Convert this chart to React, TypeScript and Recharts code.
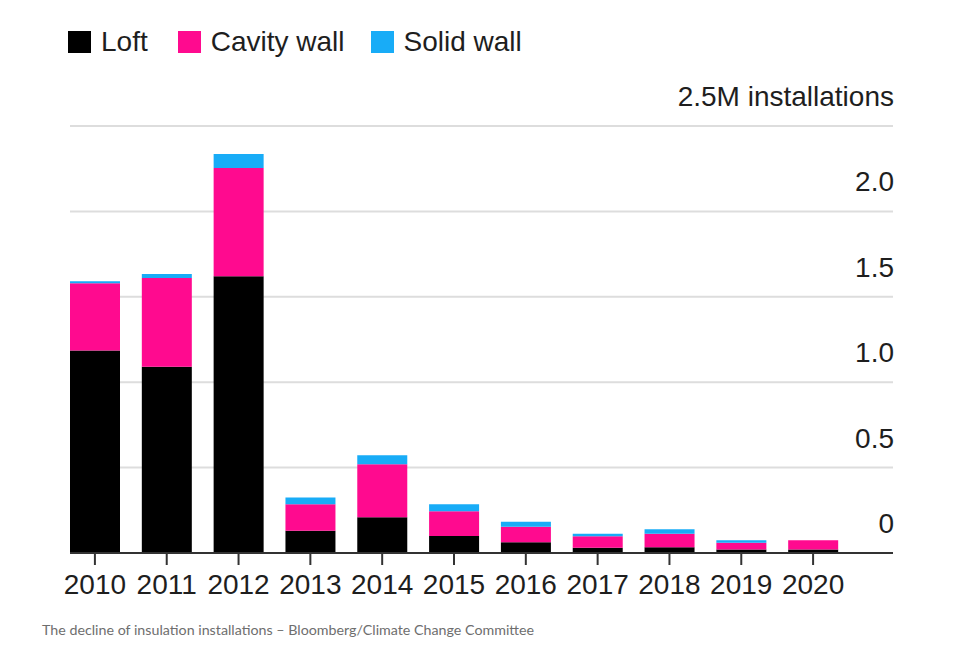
import React from 'react';
import { BarChart, Bar, XAxis, YAxis, CartesianGrid } from 'recharts';

const years = ['2010', '2011', '2012', '2013', '2014', '2015', '2016', '2017', '2018', '2019', '2020'];
// millions of installations
const loft = [1.185, 1.09, 1.62, 0.13, 0.21, 0.1, 0.063, 0.031, 0.033, 0.02, 0.02];
const cavity = [0.394, 0.52, 0.634, 0.155, 0.31, 0.145, 0.09, 0.067, 0.08, 0.04, 0.055];
const solid = [0.012, 0.023, 0.082, 0.04, 0.053, 0.04, 0.03, 0.015, 0.026, 0.014, 0];
const yTicks = [0, 0.5, 1, 1.5, 2, 2.5];

const data = years.map((year, i) => ({ year, loft: loft[i], cavity: cavity[i], solid: solid[i] }));

const FONT = '"Liberation Sans", Arial, Helvetica, sans-serif';
const COLORS = { loft: '#000000', cavity: '#ff0a8f', solid: '#18acf7' };
const MARGIN = { top: 126, right: 65, bottom: 53, left: 70 };
const WIDTH = 959;
const PLOT_RIGHT = WIDTH - MARGIN.right;

const YTick = (props: any) => {
  const { y, payload } = props;
  const label = payload.value === 2.5 ? '2.5M installations' : payload.value === 0 ? '0' : payload.value.toFixed(1);
  return (
    <text x={PLOT_RIGHT} y={y - 20} textAnchor="end" fontSize={28} fill="#1e1e1e" fontFamily={FONT}>
      {label}
    </text>
  );
};

const legendItems = [
  { key: 'loft', label: 'Loft', gap: 30 },
  { key: 'cavity', label: 'Cavity wall', gap: 26 },
  { key: 'solid', label: 'Solid wall', gap: 0 },
];

const App: React.FC = () => {
  return (
    <div style={{ position: 'absolute', left: 0, top: 0, width: WIDTH, height: 666, background: '#fff' }}>
      <div style={{ position: 'absolute', left: 68, top: 26, display: 'flex', alignItems: 'center', fontFamily: FONT, fontSize: 28, color: '#1e1e1e' }}>
        {legendItems.map((item) => (
          <div key={item.key} style={{ display: 'flex', alignItems: 'center', marginRight: item.gap }}>
            <div style={{ width: 23, height: 22, background: COLORS[item.key as keyof typeof COLORS], marginRight: 10 }} />
            <span>{item.label}</span>
          </div>
        ))}
      </div>
      <div style={{ position: 'absolute', left: 0, top: 0 }}>
        <BarChart width={WIDTH} height={666} data={data} margin={MARGIN}>
          <CartesianGrid vertical={false} stroke="#dddddd" strokeWidth={2} />
          <XAxis
            dataKey="year"
            height={60}
            padding={{ left: -11, right: 44 }}
            axisLine={{ stroke: '#333', strokeWidth: 2 }}
            tickLine={{ stroke: '#333', strokeWidth: 2 }}
            tickSize={12}
            tickMargin={9}
            tick={{ fontSize: 28, fill: '#1e1e1e', fontFamily: FONT }}
            interval={0}
          />
          <YAxis
            orientation="right"
            width={1}
            domain={[0, 2.5]}
            ticks={yTicks}
            axisLine={false}
            tickLine={false}
            tick={<YTick />}
            interval={0}
          />
          <Bar dataKey="loft" stackId="a" fill={COLORS.loft} barSize={50} isAnimationActive={false} />
          <Bar dataKey="cavity" stackId="a" fill={COLORS.cavity} barSize={50} isAnimationActive={false} />
          <Bar dataKey="solid" stackId="a" fill={COLORS.solid} barSize={50} isAnimationActive={false} />
        </BarChart>
      </div>
      <div style={{ position: 'absolute', left: 42, top: 621, fontFamily: 'Lato, sans-serif', fontSize: 14.25, color: '#6e6e6e' }}>
        The decline of insulation installations – Bloomberg/Climate Change Committee
      </div>
    </div>
  );
};

export default App;
